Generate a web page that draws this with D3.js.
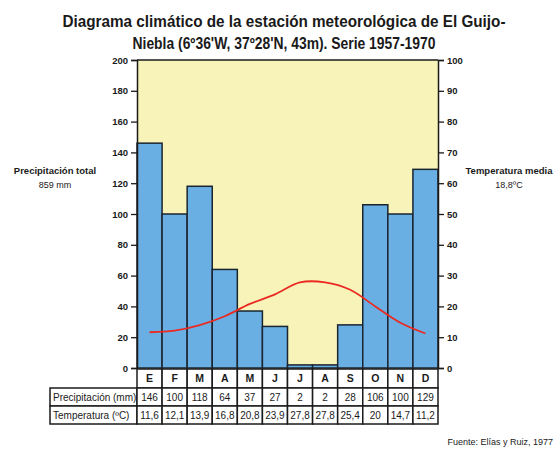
<!DOCTYPE html>
<html>
<head>
<meta charset="utf-8">
<script src="https://cdn.jsdelivr.net/npm/d3@7"></script>
<style>
  body { margin: 0; background: #fff; }
  text { font-family: "Liberation Sans Narrow", "Liberation Sans", Arial, sans-serif; fill: #1a1a1a; }
</style>
</head>
<body>
<div id="chart"></div>
<script>
const months = ["E", "F", "M", "A", "M", "J", "J", "A", "S", "O", "N", "D"];
const precip = [146, 100, 118, 64, 37, 27, 2, 2, 28, 106, 100, 129];
const temp = [11.6, 12.1, 13.9, 16.8, 20.8, 23.9, 27.8, 27.8, 25.4, 20, 14.7, 11.2];
const precipTicks = [0, 20, 40, 60, 80, 100, 120, 140, 160, 180, 200];
const tempTicks = [0, 10, 20, 30, 40, 50, 60, 70, 80, 90, 100];
const titleLines = [
  "Diagrama climático de la estación meteorológica de El Guijo-",
  "Niebla (6º36'W, 37º28'N, 43m). Serie 1957-1970"
];

const width = 557, height = 453;
const plotLeft = 137, plotRight = 438, plotTop = 60, plotBottom = 368;

const svg = d3.select("#chart").append("svg")
  .attr("width", width)
  .attr("height", height);

const x = d3.scaleBand()
  .domain(d3.range(12))
  .range([plotLeft, plotRight])
  .padding(0);

const yP = d3.scaleLinear().domain([0, 200]).range([plotBottom, plotTop]);
const yT = d3.scaleLinear().domain([0, 100]).range([plotBottom, plotTop]);

// title
svg.selectAll(".title")
  .data(titleLines)
  .join("text")
  .attr("class", "title")
  .attr("x", 284)
  .attr("y", (d, i) => 27 + i * 22)
  .attr("text-anchor", "middle")
  .attr("font-size", 16)
  .attr("font-weight", "bold")
  .attr("textLength", (d, i) => i === 0 ? 443 : 303)
  .attr("lengthAdjust", "spacingAndGlyphs")
  .text(d => d);

// background
svg.append("rect")
  .attr("x", plotLeft).attr("y", plotTop)
  .attr("width", plotRight - plotLeft).attr("height", plotBottom - plotTop)
  .attr("fill", "#f7f3b9");

// bars
svg.selectAll(".bar")
  .data(precip)
  .join("rect")
  .attr("class", "bar")
  .attr("x", (d, i) => x(i))
  .attr("y", d => yP(d))
  .attr("width", x.bandwidth())
  .attr("height", d => plotBottom - yP(d))
  .attr("fill", "#6aafe3")
  .attr("stroke", "#1b2530")
  .attr("stroke-width", 1.5);

// temperature line
const line = d3.line()
  .x((d, i) => x(i) + x.bandwidth() / 2)
  .y(d => yT(d))
  .curve(d3.curveCatmullRom);

svg.append("path")
  .datum(temp)
  .attr("d", line)
  .attr("fill", "none")
  .attr("stroke", "#ea2a22")
  .attr("stroke-width", 1.8);

// frame top
svg.append("line")
  .attr("x1", plotLeft).attr("x2", plotRight)
  .attr("y1", plotTop).attr("y2", plotTop)
  .attr("stroke", "#1b1b1b").attr("stroke-width", 1.5);

// axes
const axisL = d3.axisLeft(yP).tickValues(precipTicks).tickSize(6).tickPadding(3);
const axisR = d3.axisRight(yT).tickValues(tempTicks).tickSize(6).tickPadding(3);

const gL = svg.append("g").attr("transform", `translate(${plotLeft},0)`).call(axisL);
const gR = svg.append("g").attr("transform", `translate(${plotRight},0)`).call(axisR);

[gL, gR].forEach(g => {
  g.select(".domain").attr("stroke", "#1b1b1b").attr("stroke-width", 1.5);
  g.selectAll(".tick line").attr("stroke", "#1b1b1b").attr("stroke-width", 1.3);
  g.selectAll(".tick text")
    .attr("font-size", 9.5)
    .attr("font-weight", "bold")
    .attr("font-family", "'Liberation Sans Narrow', 'Liberation Sans', Arial, sans-serif")
    .attr("fill", "#333");
});

// side labels
const sideLabels = [
  { x: 55, lines: ["Precipitación total", "859 mm"] },
  { x: 509, lines: ["Temperatura media", "18,8ºC"] }
];
sideLabels.forEach(s => {
  s.lines.forEach((t, i) => {
    svg.append("text")
      .attr("x", s.x)
      .attr("y", 174 + i * 14)
      .attr("text-anchor", "middle")
      .attr("font-size", i === 0 ? 9.5 : 9)
      .attr("font-weight", i === 0 ? "bold" : "normal")
      .text(t);
  });
});

// table
const rowTop = [369, 388, 406];
const rowH = [19, 18, 18];
const tableLeft = 50;
const rows = [
  { label: "", values: months },
  { label: "Precipitación (mm)", values: precip.map(String) },
  { label: "Temperatura (ºC)", values: temp.map(v => String(v).replace(".", ",")) }
];
const tbl = svg.append("g");

rows.forEach((r, ri) => {
  const y0 = rowTop[ri], h = rowH[ri];
  if (r.label) {
    tbl.append("rect")
      .attr("x", tableLeft).attr("y", y0)
      .attr("width", plotLeft - tableLeft).attr("height", h)
      .attr("fill", "#fff").attr("stroke", "#1b1b1b").attr("stroke-width", 1.5);
    tbl.append("text")
      .attr("x", tableLeft + 3).attr("y", y0 + h / 2 + 3.5)
      .attr("font-size", 10)
      .text(r.label);
  }
  r.values.forEach((v, i) => {
    tbl.append("rect")
      .attr("x", x(i)).attr("y", y0)
      .attr("width", x.bandwidth()).attr("height", h)
      .attr("fill", "#fff").attr("stroke", "#1b1b1b").attr("stroke-width", 1.5);
    tbl.append("text")
      .attr("x", x(i) + x.bandwidth() / 2).attr("y", y0 + h / 2 + 3.5)
      .attr("text-anchor", "middle")
      .attr("font-size", ri === 0 ? 10.5 : 10)
      .attr("font-weight", ri === 0 ? "bold" : "normal")
      .text(v);
  });
});

// source
svg.append("text")
  .attr("x", 553).attr("y", 445)
  .attr("text-anchor", "end")
  .attr("font-size", 9)
  .text("Fuente: Elías y Ruiz, 1977");
</script>
</body>
</html>
